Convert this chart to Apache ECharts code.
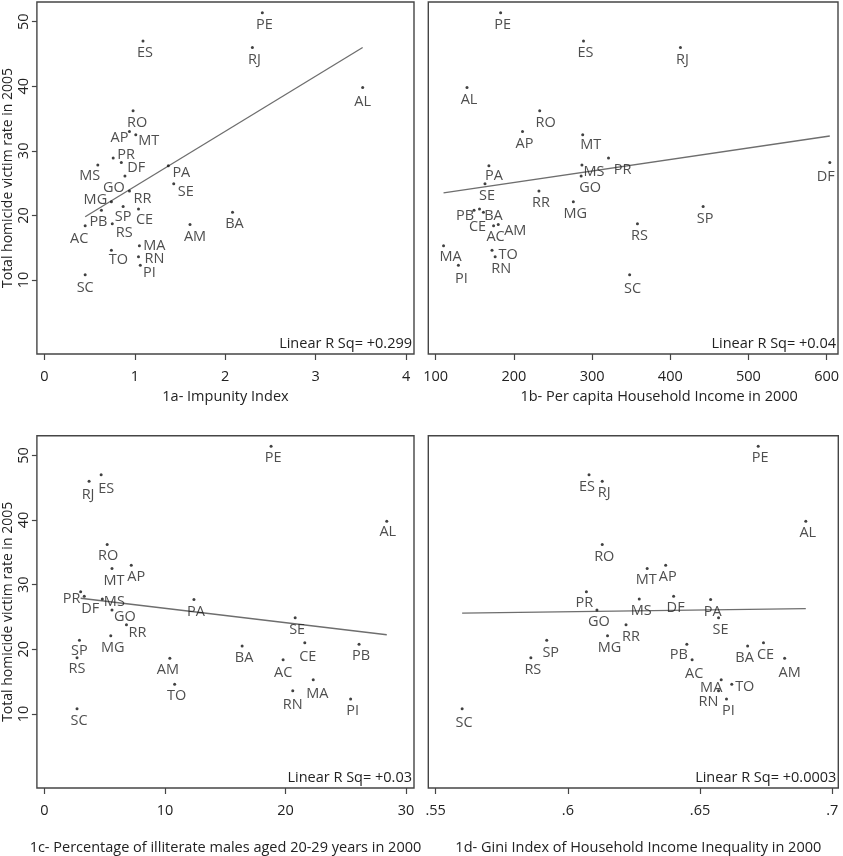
<!DOCTYPE html>
<html>
<head>
<meta charset="utf-8">
<script src="https://cdn.jsdelivr.net/npm/echarts@6/dist/echarts.min.js"></script>
<style>
html, body { margin: 0; padding: 0; background: #fff; }
#chart { width: 843px; height: 856px; }
</style>
</head>
<body>
<div id="chart"></div>
<script>
// ==========================================
// Homicide rate vs four state indicators (Brazil, 27 UFs)
// ==========================================

// every value array below follows this order
var states = ['AC','AL','AM','AP','BA','CE','DF','ES','GO','MA','MG','MS','MT','PA','PB','PE','PI','PR','RJ','RN','RO','RR','RS','SC','SE','SP','TO'];

var homicide   = [18.4, 39.8, 18.6, 33.0, 20.5, 21.0, 28.2, 47.0, 26.1, 15.3, 22.1, 27.8, 32.5, 27.7, 20.8, 51.4, 12.3, 28.9, 46.0, 13.6, 36.2, 23.8, 18.7, 10.8, 24.9, 21.4, 14.6];
var impunity   = [0.45, 3.52, 1.61, 0.94, 2.08, 1.04, 0.85, 1.09, 0.89, 1.05, 0.74, 0.59, 1.01, 1.37, 0.63, 2.41, 1.06, 0.76, 2.30, 1.04, 0.98, 0.94, 0.75, 0.45, 1.43, 0.87, 0.74];
var income     = [174, 140, 180, 211, 161, 156, 604, 289, 286, 110, 276, 287, 288, 168, 149, 183, 129, 321, 413, 176, 233, 232, 358, 348, 163, 442, 172];
var illiteracy = [19.8, 28.4, 10.4, 7.2, 16.4, 21.6, 3.3, 4.7, 5.6, 22.3, 5.5, 4.8, 5.6, 12.4, 26.1, 18.8, 25.4, 3.0, 3.7, 20.6, 5.2, 6.8, 2.7, 2.7, 20.8, 2.9, 10.8];
var gini       = [0.647, 0.690, 0.682, 0.637, 0.668, 0.674, 0.640, 0.608, 0.611, 0.658, 0.615, 0.627, 0.630, 0.654, 0.645, 0.672, 0.660, 0.607, 0.613, 0.657, 0.613, 0.622, 0.586, 0.560, 0.657, 0.592, 0.662];

// fitted lines (end points)
var fitA = [[0.45, 19.8], [3.52, 46.0]];
var fitB = [[110, 23.5], [604, 32.3]];
var fitC = [[3.0, 27.9], [28.4, 22.25]];
var fitD = [[0.560, 25.6], [0.690, 26.3]];

var rsqText = ['Linear R Sq= +0.299', 'Linear R Sq= +0.04', 'Linear R Sq= +0.03', 'Linear R Sq= +0.0003'];
var xTitles = ['1a- Impunity Index', '1b- Per capita Household Income in 2000',
  '1c- Percentage of illiterate males aged 20-29 years in 2000', '1d- Gini Index of Household Income Inequality in 2000'];
var yTitle = 'Total homicide victim rate in 2005';

var yTicks = [10, 20, 30, 40, 50];
var xTicksA = [0, 1, 2, 3, 4];
var xTicksB = [100, 200, 300, 400, 500, 600];
var xTicksC = [0, 10, 20, 30];
var xTicksD = [0.55, 0.6, 0.65, 0.7];

// label offsets from the dot (px); anything not listed sits just below
var LBL_DEFAULT = [2, 12];
var lblA = { AP: [-10, 6], MT: [13, 6], PR: [13, -3], DF: [15, 5], MS: [-8, 11], GO: [-11, 12], PA: [13, 7], SE: [12, 8],
  RR: [13, 8], MG: [-16, -2], SP: [0, 10], CE: [6, 11], PB: [-3, 12], AC: [-6, 13], AM: [5, 12], RS: [12, 9],
  MA: [15, 0], TO: [7, 10], RN: [16, 2], PI: [9, 8], AL: [0, 14], RO: [4, 12], SC: [0, 13] };
var lblB = { PR: [14, 12], MS: [12, 7], DF: [-4, 14], GO: [9, 12], MT: [8, 10], RO: [6, 12], PB: [-9, 6], CE: [-2, 18],
  BA: [10, 4], AM: [17, 6], TO: [16, 5], RN: [6, 12], MA: [7, 11], PA: [5, 10], AC: [2, 11], PI: [3, 14], SC: [3, 14] };
var lblC = { PR: [-9, 7], MS: [12, 3], GO: [13, 7], RR: [11, 8], DF: [6, 13], ES: [5, 14], RJ: [-1, 14], AP: [5, 12],
  RN: [0, 14], MA: [4, 14], AC: [0, 13], AM: [-2, 12], CE: [3, 14], SP: [0, 11], RS: [0, 11], AL: [1, 11], RO: [1, 11] };
var lblD = { PB: [-8, 11], TO: [13, 3], RN: [-10, 11], MA: [-10, 8], BA: [-3, 12], AM: [5, 15], RR: [5, 12], SP: [4, 13],
  ES: [-2, 12], MT: [-1, 11], PR: [-2, 11], AC: [2, 14], SC: [2, 14] };

var FONT = '"Open Sans", "Noto Sans", sans-serif';
var FS = 14.5;
var TEXT = '#222';
var FRAME = '#454545';

var panels = [
  { box: [35.7, 2, 378.3, 352], x: impunity, min: -0.084, max: 4.088, ticks: xTicksA, fit: fitA, lbl: lblA, yAxis: true, gap: 35, pad: 0 },
  { box: [428.3, 2, 409.7, 352], x: income, min: 90.5, max: 614.5, ticks: xTicksB, fit: fitB, lbl: lblB, yAxis: false, gap: 35, pad: 52 },
  { box: [35.7, 435.7, 378.3, 352.3], x: illiteracy, min: -0.63, max: 30.66, ticks: xTicksC, fit: fitC, lbl: lblC, yAxis: true, gap: 52, pad: 0 },
  { box: [428.3, 435.7, 410, 352.3], x: gini, min: 0.5472, max: 0.7023, ticks: xTicksD, fit: fitD, lbl: lblD, yAxis: false, gap: 52, pad: 10 }
];

function tickFmt(v) {
  return String(v).replace(/^0\./, '.');
}

var grids = [], xAxes = [], yAxes = [], series = [], graphics = [];

panels.forEach(function (p, i) {
  grids.push({ left: p.box[0], top: p.box[1], width: p.box[2], height: p.box[3],
    show: true, borderColor: FRAME, borderWidth: 1.4, backgroundColor: 'transparent', containLabel: false });

  xAxes.push({
    gridIndex: i, type: 'value', min: p.min, max: p.max, position: 'bottom',
    name: xTitles[i], nameLocation: 'middle', nameGap: p.gap,
    nameTextStyle: { fontFamily: FONT, fontSize: FS, color: TEXT, padding: [0, 0, 0, p.pad] },
    axisLine: { show: false, onZero: false },
    axisTick: { show: true, inside: false, length: 6, customValues: p.ticks, lineStyle: { color: FRAME, width: 1.2 } },
    axisLabel: { show: true, margin: 15, customValues: p.ticks, formatter: tickFmt,
      fontFamily: FONT, fontSize: FS, color: TEXT },
    splitLine: { show: false }
  });

  yAxes.push({
    gridIndex: i, type: 'value', min: -1.46, max: 53.05, position: 'left',
    name: p.yAxis ? yTitle : '', nameLocation: 'middle', nameGap: 18,
    nameTextStyle: { fontFamily: FONT, fontSize: 14, color: TEXT },
    axisLine: { show: false, onZero: false },
    axisTick: { show: p.yAxis, inside: false, length: 5, customValues: yTicks, lineStyle: { color: FRAME, width: 1.2 } },
    axisLabel: { show: p.yAxis, rotate: 90, margin: 6, customValues: yTicks,
      fontFamily: FONT, fontSize: FS, color: TEXT },
    splitLine: { show: false }
  });

  series.push({
    type: 'scatter', xAxisIndex: i, yAxisIndex: i,
    symbol: 'circle', symbolSize: 3,
    itemStyle: { color: '#111' },
    label: { show: true, position: 'inside', formatter: '{b}', color: TEXT,
      fontFamily: FONT, fontSize: FS, textBorderWidth: 0 },
    emphasis: { disabled: true },
    data: states.map(function (s, k) {
      return { name: s, value: [p.x[k], homicide[k]], label: { offset: p.lbl[s] || LBL_DEFAULT } };
    }),
    z: 3
  });

  series.push({
    type: 'line', xAxisIndex: i, yAxisIndex: i,
    data: p.fit, symbol: 'none', silent: true,
    lineStyle: { color: '#6e6e6e', width: 1.3 },
    z: 2
  });

  graphics.push({
    type: 'text',
    x: p.box[0] + p.box[2] - 2, y: p.box[1] + p.box[3] - 10,
    style: { text: rsqText[i], align: 'right', verticalAlign: 'middle',
      fontFamily: FONT, fontSize: FS, fill: TEXT }
  });
});

var chart = echarts.init(document.getElementById('chart'), null, { renderer: 'canvas' });
chart.setOption({
  animation: false,
  backgroundColor: '#fff',
  grid: grids,
  xAxis: xAxes,
  yAxis: yAxes,
  series: series,
  graphic: graphics
});
</script>
</body>
</html>
